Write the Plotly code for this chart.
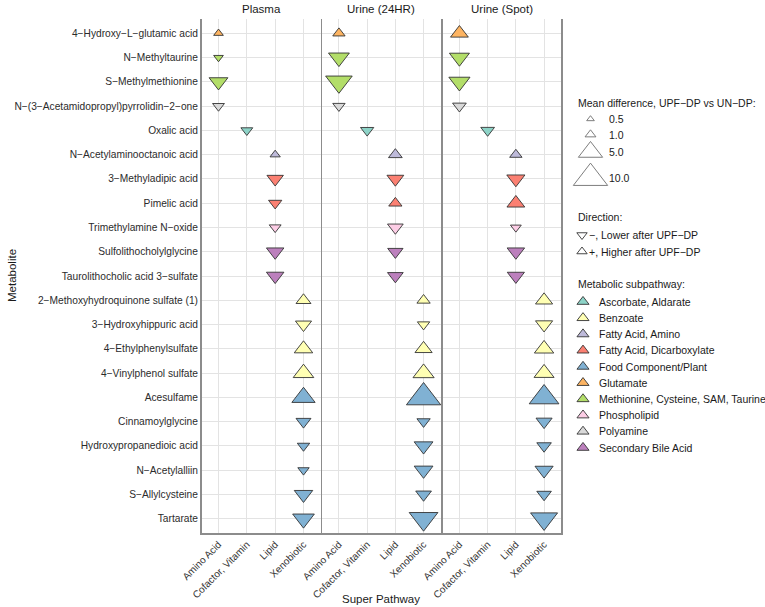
import math
import plotly.graph_objects as go

# ---------------- data ----------------
metabolites = [
    "4−Hydroxy−L−glutamic acid", "N−Methyltaurine", "S−Methylmethionine",
    "N−(3−Acetamidopropyl)pyrrolidin−2−one", "Oxalic acid",
    "N−Acetylaminooctanoic acid", "3−Methyladipic acid", "Pimelic acid",
    "Trimethylamine N−oxide", "Sulfolithocholylglycine",
    "Taurolithocholic acid 3−sulfate", "2−Methoxyhydroquinone sulfate (1)",
    "3−Hydroxyhippuric acid", "4−Ethylphenylsulfate", "4−Vinylphenol sulfate",
    "Acesulfame", "Cinnamoylglycine", "Hydroxypropanedioic acid",
    "N−Acetylalliin", "S−Allylcysteine", "Tartarate",
]
super_pathway = [
    "Amino Acid", "Amino Acid", "Amino Acid", "Amino Acid", "Cofactor, Vitamin",
    "Lipid", "Lipid", "Lipid", "Lipid", "Lipid", "Lipid",
    "Xenobiotic", "Xenobiotic", "Xenobiotic", "Xenobiotic", "Xenobiotic",
    "Xenobiotic", "Xenobiotic", "Xenobiotic", "Xenobiotic", "Xenobiotic",
]
subpathway = [
    "Glutamate", "Methionine, Cysteine, SAM, Taurine",
    "Methionine, Cysteine, SAM, Taurine", "Polyamine", "Ascorbate, Aldarate",
    "Fatty Acid, Amino", "Fatty Acid, Dicarboxylate", "Fatty Acid, Dicarboxylate",
    "Phospholipid", "Secondary Bile Acid", "Secondary Bile Acid",
    "Benzoate", "Benzoate", "Benzoate", "Benzoate",
    "Food Component/Plant", "Food Component/Plant", "Food Component/Plant",
    "Food Component/Plant", "Food Component/Plant", "Food Component/Plant",
]
pathway_categories = ["Amino Acid", "Cofactor, Vitamin", "Lipid", "Xenobiotic"]
facets = ["Plasma", "Urine (24HR)", "Urine (Spot)"]

# signed mean difference (UPF-DP vs UN-DP); sign = direction
plasma_diff = [0.8, -0.8, -3.0, -1.2, -1.2, 0.9, -2.3, -1.5, -1.2, -2.6, -2.6,
               1.9, -2.2, 2.9, 3.6, 4.6, -1.9, -1.3, -1.1, -2.9, -4.0]
urine24_diff = [1.3, -3.7, -6.0, -1.3, -1.5, 1.6, -2.4, 1.5, -2.1, -2.0, -2.1,
                1.5, -1.3, 2.5, 3.8, 10.0, -1.5, -3.0, -3.0, -2.1, -7.0]
urinespot_diff = [2.7, -3.4, -3.8, -1.6, -1.6, 1.3, -2.8, 2.7, -1.0, -2.6, -2.5,
                  2.5, -2.5, 3.2, 3.4, 7.5, -2.2, -1.8, -2.8, -1.8, -6.2]

size_breaks = [0.5, 1.0, 5.0, 10.0]
size_labels = ["0.5", "1.0", "5.0", "10.0"]
direction_labels = ["−, Lower after UPF−DP", "+, Higher after UPF−DP"]
subpathway_levels = [
    "Ascorbate, Aldarate", "Benzoate", "Fatty Acid, Amino",
    "Fatty Acid, Dicarboxylate", "Food Component/Plant", "Glutamate",
    "Methionine, Cysteine, SAM, Taurine", "Phospholipid", "Polyamine",
    "Secondary Bile Acid",
]
set3 = ["#8DD3C7", "#FFFFB3", "#BEBADA", "#FB8072", "#80B1D3",
        "#FDB462", "#B3DE69", "#FCCDE5", "#D9D9D9", "#BC80BD"]
color_map = dict(zip(subpathway_levels, set3))

# ---------------- styling ----------------
W, H = 765, 607
FONT = "Liberation Sans, Arial, sans-serif"
K = 9.4  # marker px per sqrt(unit)
OUTLINE = "#333333"
BORDER = "#8c8c8c"
GRID = "#E3E3E3"


def msize(v):
    return K * math.sqrt(abs(v))


panel_px = [(201.5, 320.5), (322.0, 440.5), (442.5, 561.0)]
top_px, bot_px = 18.7, 533.3
ydom = [1 - bot_px / H, 1 - top_px / H]

fig = go.Figure()
data_by_facet = [plasma_diff, urine24_diff, urinespot_diff]

for i, (fname, vals) in enumerate(zip(facets, data_by_facet)):
    n = i + 1
    xa = "x" if n == 1 else f"x{n}"
    ya = "y" if n == 1 else f"y{n}"
    fig.add_trace(go.Scatter(
        x=super_pathway, y=metabolites, mode="markers",
        xaxis=xa, yaxis=ya, showlegend=False, hoverinfo="skip",
        marker=dict(
            symbol=["triangle-up" if v > 0 else "triangle-down" for v in vals],
            size=[msize(v) for v in vals],
            color=[color_map[s] for s in subpathway],
            line=dict(color=OUTLINE, width=0.9),
            opacity=1,
        ),
        cliponaxis=False,
    ))
    xkey = "xaxis" if n == 1 else f"xaxis{n}"
    ykey = "yaxis" if n == 1 else f"yaxis{n}"
    fig.layout[xkey] = dict(
        domain=[panel_px[i][0] / W, panel_px[i][1] / W],
        anchor=ya, type="category", automargin=False,
        categoryorder="array", categoryarray=pathway_categories,
        range=[-0.6, 3.6], tickangle=-45,
        showgrid=True, gridcolor=GRID, gridwidth=1,
        showline=True, linecolor=BORDER, linewidth=1.5, mirror=False,
        zeroline=False, ticks="", tickfont=dict(family=FONT, size=10, color="#333333"),
        fixedrange=True,
    )
    fig.layout[ykey] = dict(
        domain=ydom, anchor=xa, type="category", automargin=False,
        categoryorder="array", categoryarray=metabolites,
        range=[len(metabolites) - 0.4, -0.6],
        showgrid=True, gridcolor=GRID, gridwidth=1,
        showline=True, linecolor=BORDER, linewidth=1.5, mirror=True,
        zeroline=False, ticks="", showticklabels=(n == 1),
        tickfont=dict(family=FONT, size=10.2, color="#2b2b2b"),
        fixedrange=True,
    )
    fig.add_annotation(
        x=(panel_px[i][0] + panel_px[i][1]) / 2 / W, y=1 - 9.5 / H,
        xref="paper", yref="paper", text=fname, showarrow=False,
        font=dict(family=FONT, size=11.5, color="#1a1a1a"),
        xanchor="center", yanchor="middle",
    )

# legend subplot in pixel units (region right of the panels)
LX0, LX1, LY0, LY1 = 566, 765, 90, 470
fig.layout["xaxis4"] = dict(domain=[LX0 / W, LX1 / W], range=[LX0, LX1],
                            visible=False, anchor="y4", fixedrange=True,
                            automargin=False)
fig.layout["yaxis4"] = dict(domain=[1 - LY1 / H, 1 - LY0 / H], range=[LY1, LY0],
                            visible=False, anchor="x4", fixedrange=True,
                            automargin=False)

LEG_FONT = dict(family=FONT, size=10.5, color="#1a1a1a")


def leg_text(x, y, text):
    fig.add_annotation(x=x / W, y=1 - y / H, xref="paper", yref="paper",
                       text=text, showarrow=False, xanchor="left",
                       yanchor="middle", font=LEG_FONT)


# size legend
leg_text(576, 102.5, "Mean difference, UPF−DP vs UN−DP:")
size_y = [119, 134.5, 152, 178]
fig.add_trace(go.Scatter(
    x=[590.5] * 4, y=size_y, xaxis="x4", yaxis="y4", mode="markers",
    showlegend=False, hoverinfo="skip", cliponaxis=False,
    marker=dict(symbol="triangle-up", size=[msize(v) for v in size_breaks],
                color="white", line=dict(color=OUTLINE, width=0.9)),
))
for yy, lab in zip(size_y, size_labels):
    leg_text(607, yy, lab)

# direction legend
leg_text(576, 217, "Direction:")
dir_y = [235, 251.5]
fig.add_trace(go.Scatter(
    x=[582] * 2, y=dir_y, xaxis="x4", yaxis="y4", mode="markers",
    showlegend=False, hoverinfo="skip", cliponaxis=False,
    marker=dict(symbol=["triangle-down", "triangle-up"], size=9,
                color="white", line=dict(color=OUTLINE, width=0.9)),
))
for yy, lab in zip(dir_y, direction_labels):
    leg_text(587, yy, lab)

# subpathway legend
leg_text(576, 284, "Metabolic subpathway:")
sub_y = [301.7 + 16.22 * k for k in range(len(subpathway_levels))]
fig.add_trace(go.Scatter(
    x=[583] * len(sub_y), y=sub_y, xaxis="x4", yaxis="y4", mode="markers",
    showlegend=False, hoverinfo="skip", cliponaxis=False,
    marker=dict(symbol="triangle-up", size=10.5,
                color=[color_map[s] for s in subpathway_levels],
                line=dict(color=OUTLINE, width=0.9)),
))
for yy, lab in zip(sub_y, subpathway_levels):
    leg_text(597, yy, lab)

# axis titles
fig.add_annotation(x=12 / W, y=1 - 276 / H, xref="paper", yref="paper",
                   text="Metabolite", showarrow=False, textangle=-90,
                   font=dict(family=FONT, size=11.5, color="#1a1a1a"),
                   xanchor="center", yanchor="middle")
fig.add_annotation(x=381 / W, y=1 - 599 / H, xref="paper", yref="paper",
                   text="Super Pathway", showarrow=False,
                   font=dict(family=FONT, size=11.5, color="#1a1a1a"),
                   xanchor="center", yanchor="middle")

fig.update_layout(
    width=W, height=H, margin=dict(l=0, r=0, t=0, b=0, autoexpand=False),
    paper_bgcolor="white", plot_bgcolor="rgba(0,0,0,0)", showlegend=False,
    font=dict(family=FONT),
)
fig.write_html(
    "out.html",
    config={"displayModeBar": False, "staticPlot": True},
    post_script="document.body.style.margin='0';document.body.style.overflow='hidden';",
)
